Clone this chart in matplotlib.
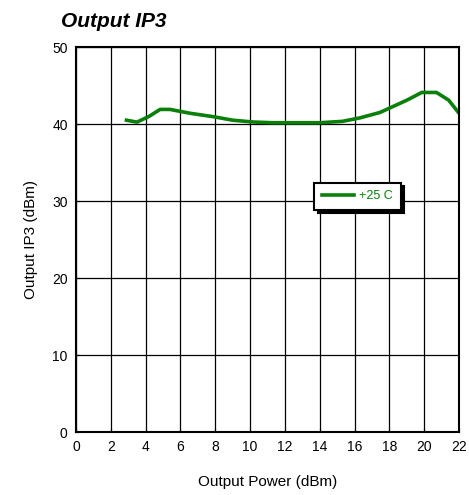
import matplotlib.pyplot as plt
import numpy as np

plt.rcParams['font.family'] = ['Liberation Sans', 'DejaVu Sans']

# ---------- 数据 ----------
power = [2.9, 3.5, 4.2, 4.83, 5.4, 6.55, 7.9, 9.0, 10.2, 11.3, 14.0, 15.3, 16.3,
         17.45, 19.0, 19.85, 20.7, 21.4, 21.96]
ip3 = [40.5, 40.25, 41.0, 41.9, 41.9, 41.4, 40.95, 40.5, 40.26, 40.17, 40.17,
       40.35, 40.8, 41.5, 43.1, 44.1, 44.1, 43.1, 41.5]
xticks = np.arange(0, 23, 2)
yticks = np.arange(0, 51, 10)

fig = plt.figure(figsize=(4.69, 4.95), dpi=100)
ax = fig.add_axes([0.162, 0.127, 0.817, 0.778])

ax.plot(power, ip3, color='#0a800a', lw=2.6, label='+25 C',
        solid_joinstyle='round')

ax.set_xlim(0, 22)
ax.set_ylim(0, 50)
ax.set_xticks(xticks)
ax.set_yticks(yticks)
ax.grid(True, color='black', lw=0.9)
for s in ax.spines.values():
    s.set_linewidth(1.5)
ax.tick_params(labelsize=10, length=3, direction='in', pad=6)

ax.set_xlabel('Output Power (dBm)', fontsize=11, labelpad=15)
ax.set_ylabel('Output IP3 (dBm)', fontsize=11, labelpad=10)
fig.text(0.13, 0.945, 'Output IP3', fontsize=15, fontweight='bold', fontstyle='italic')

leg = ax.legend(loc='center', bbox_to_anchor=(0.735, 0.612), fontsize=9,
                frameon=True, fancybox=False, handlelength=2.6, handletextpad=0.4,
                shadow={'color': 'black', 'alpha': 1.0, 'ox': 2.5, 'oy': -2.5},
                borderpad=0.6, labelcolor='#0a800a')
leg.get_frame().set_edgecolor('black')
leg.get_frame().set_linewidth(1.5)

fig.savefig('out.png', dpi=100)
